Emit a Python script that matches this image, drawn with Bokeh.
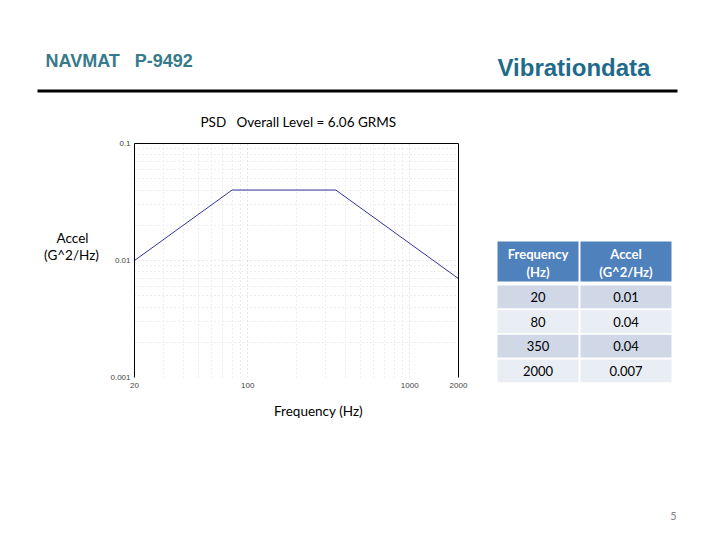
from bokeh.plotting import figure
from bokeh.layouts import column, row
from bokeh.models import FixedTicker, LogAxis, Range1d, CustomJSTickFormatter
from bokeh.core.properties import value
from bokeh.embed import file_html
from bokeh.resources import INLINE

# ---- data ----
freq = [20, 80, 350, 2000]
accel = [0.01, 0.04, 0.04, 0.007]
x_ticks = [20, 100, 1000, 2000]
x_minor = [30, 40, 50, 60, 70, 80, 90, 200, 300, 400, 500, 600, 700, 800, 900]
y_ticks = [0.001, 0.01, 0.1]
y_minor = [0.002, 0.003, 0.004, 0.005, 0.006, 0.007, 0.008, 0.009,
           0.02, 0.03, 0.04, 0.05, 0.06, 0.07, 0.08, 0.09]
table_headers = [["Frequency", "(Hz)"], ["Accel", "(G^2/Hz)"]]
title_left = "NAVMAT\u00a0\u00a0\u00a0P-9492"
title_right = "Vibrationdata"
plot_title = "PSD\u00a0\u00a0\u00a0Overall Level = 6.06 GRMS"
y_label = ["Accel", "(G^2/Hz)"]
x_label = "Frequency (Hz)"
page_no = "5"

W, H = 704, 524
TOP_H = 132          # header band height
MID_B = 398          # bottom of middle band
LEFT_W = 100         # left strip width
PSD_R = 470          # right edge of the PSD figure
FL, FR, FT, FB = 134, 458, 143, 377   # plot frame in canvas pixels

BODY_FONT = "Lato"


def no_align(f):
    try:
        f.frame_align = False
    except Exception:
        pass


def panel(x0, x1, y0, y1):
    """A blank figure whose frame maps canvas pixels (y downward)."""
    f = figure(width=x1 - x0, height=y1 - y0,
               x_range=Range1d(x0, x1), y_range=Range1d(y1, y0),
               x_axis_location=None, y_axis_location=None,
               output_backend="svg", toolbar_location=None,
               min_border=0)
    f.grid.visible = False
    f.outline_line_color = None
    f.background_fill_color = "white"
    f.border_fill_color = "white"
    no_align(f)
    return f


def txt(f, x, y, text, size, color="black", font=BODY_FONT, style="normal",
        align="left", baseline="middle"):
    f.text(x=[x], y=[y], text=[text], text_font=value(font),
           text_font_size=value(size), text_color=color,
           text_font_style=style, text_align=align, text_baseline=baseline)


# ---------- header band ----------
top = panel(0, W, 0, TOP_H)
txt(top, 45, 60, title_left, "18px", "#367a8b", "Liberation Sans", "bold")
txt(top, 497, 67, title_right, "24px", "#1f6b8c", "Liberation Sans", "bold")
top.quad(left=[37], right=[677], top=[89], bottom=[92], fill_color="black",
         line_color=None)
txt(top, 200, 121, plot_title, "13.5px")

# ---------- left strip (y axis title) ----------
left = panel(0, LEFT_W, TOP_H, MID_B)
txt(left, 72, 237, y_label[0], "13.5px", align="center")
txt(left, 71, 254, y_label[1], "13.5px", align="center")

# ---------- PSD plot ----------
p = figure(width=PSD_R - LEFT_W, height=MID_B - TOP_H,
           x_axis_type="log", y_axis_type="log",
           x_range=(20, 2000), y_range=(0.001, 0.1),
           output_backend="svg", toolbar_location=None,
           min_border_left=FL - LEFT_W, min_border_right=PSD_R - FR,
           min_border_top=FT - TOP_H, min_border_bottom=MID_B - FB)
p.background_fill_color = "white"
p.border_fill_color = "white"
p.outline_line_color = None
no_align(p)

for ax, tk, mn in ((p.xaxis[0], x_ticks, x_minor), (p.yaxis[0], y_ticks, y_minor)):
    ax.ticker = FixedTicker(ticks=tk, minor_ticks=mn)
    ax.major_tick_line_color = None
    ax.minor_tick_line_color = None
    ax.major_tick_out = 0
    ax.major_tick_in = 0
    ax.minor_tick_out = 0
    ax.minor_tick_in = 0
    ax.major_label_text_font = "Liberation Sans"
    ax.major_label_text_font_size = "8px"
    ax.major_label_text_color = "#444444"
    ax.formatter = CustomJSTickFormatter(code="return String(tick);")
p.xaxis[0].axis_line_color = None
p.xaxis[0].major_label_standoff = 5
p.yaxis[0].major_label_standoff = 4
p.yaxis[0].axis_line_color = "black"

for loc in ("right", "above"):
    ax = LogAxis(ticker=FixedTicker(ticks=[]), axis_line_color="black",
                 major_tick_line_color=None, minor_tick_line_color=None,
                 major_tick_out=0, major_tick_in=0,
                 minor_tick_out=0, minor_tick_in=0,
                 major_label_text_font_size="0px")
    p.add_layout(ax, loc)

for g in (p.xgrid[0], p.ygrid[0]):
    g.grid_line_color = "#d0d0d0"
    g.grid_line_dash = "1 3"
    g.minor_grid_line_color = "#dcdcdc"
    g.minor_grid_line_dash = "1 3"
p.xgrid[0].ticker = FixedTicker(ticks=x_ticks, minor_ticks=x_minor)
p.ygrid[0].ticker = FixedTicker(ticks=y_ticks, minor_ticks=y_minor)

p.line(freq, accel, line_color="#33339a", line_width=1)

# ---------- table ----------
tab = panel(PSD_R, W, TOP_H, MID_B)
col_l = [497, 580]
col_r = [578, 671]
hdr_t, hdr_b = 241, 281
row_t = [285, 309.7, 334.3, 359]
row_h = 22.7
row_colors = ["#d0d8e8", "#e9edf4", "#d0d8e8", "#e9edf4"]
for c in range(2):
    tab.quad(left=[col_l[c]], right=[col_r[c]], top=[hdr_t], bottom=[hdr_b],
             fill_color="#4f81bd", line_color=None)
    cx = (col_l[c] + col_r[c]) / 2
    txt(tab, cx, 253, table_headers[c][0], "13px", "white", style="bold",
        align="center")
    txt(tab, cx, 271, table_headers[c][1], "13px", "white", style="bold",
        align="center")
for i in range(len(freq)):
    for c, v in enumerate((str(freq[i]), str(accel[i]))):
        tab.quad(left=[col_l[c]], right=[col_r[c]], top=[row_t[i]],
                 bottom=[row_t[i] + row_h], fill_color=row_colors[i],
                 line_color=None)
        cx = (col_l[c] + col_r[c]) / 2
        txt(tab, cx, row_t[i] + row_h / 2, v, "13px", "black", align="center")

# ---------- bottom band ----------
bot = panel(0, W, MID_B, H)
txt(bot, 318, 410, x_label, "13.5px", align="center")
txt(bot, 673, 515, page_no, "11px", "#808080", align="center")

layout = column(top, row(left, p, tab), bot)
open("out.html", "w").write(file_html(layout, INLINE))
